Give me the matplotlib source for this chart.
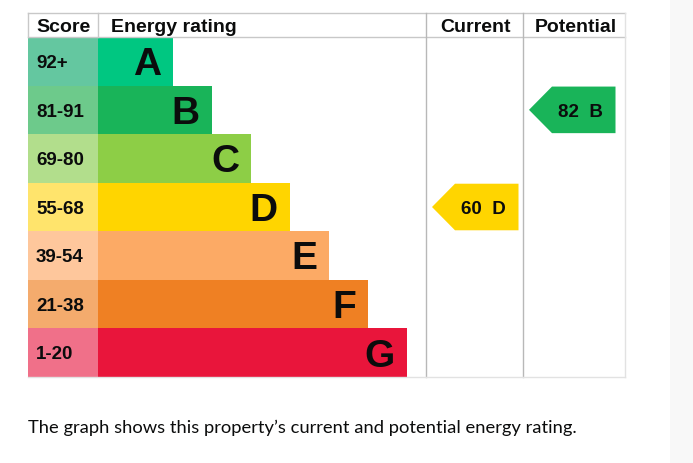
import matplotlib
matplotlib.use("Agg")
import matplotlib.pyplot as plt
from matplotlib.patches import Rectangle, Polygon

# band data
bands = ["A", "B", "C", "D", "E", "F", "G"]
score_labels = ["92+", "81-91", "69-80", "55-68", "39-54", "21-38", "1-20"]
band_min = [92, 81, 69, 55, 39, 21, 1]
current_rating = 60
potential_rating = 82

bar_colors = ["#00c781", "#19b459", "#8dce46", "#ffd500", "#fcaa65", "#ef8023", "#e9153b"]
score_colors = ["#64c7a0", "#6dca8b", "#b2de8c", "#ffe46c", "#fec79c", "#f4ab6d", "#f07089"]

W, H = 693, 463
LEFT, SCORE_R, CUR_L, POT_L, RIGHT = 28, 98, 426, 523, 625
TOP, HEAD_B, BOTTOM = 13, 37, 377
BAR0, BAR_STEP = 173, 39
ROW_H = (BOTTOM - HEAD_B) / len(bands)
DPI = 100
PX = 72 / DPI  # points per pixel
CAP = 0.716


def band_of(rating):
    for i, m in enumerate(band_min):
        if rating >= m:
            return i
    return len(bands) - 1


def baseline(yc, size_pt):
    return yc + CAP * size_pt / PX / 2


fig = plt.figure(figsize=(W / DPI, H / DPI), dpi=DPI)
ax = fig.add_axes([0, 0, 1, 1])
ax.set_xlim(0, W)
ax.set_ylim(H, 0)
ax.axis("off")

# grey strip on the right
ax.add_patch(Rectangle((670, 0), W - 670, H, color="#f8f8f8", lw=0))

font = "Liberation Sans"
txt = "#0b0c0c"

# header
ax.text(36, baseline((TOP + HEAD_B) / 2, 14), "Score", fontsize=14, fontweight="bold",
        family=font, color=txt, va="baseline")
ax.text(111, baseline((TOP + HEAD_B) / 2, 14), "Energy rating", fontsize=14, fontweight="bold",
        family=font, color=txt, va="baseline")
ax.text((CUR_L + POT_L) / 2 + 1, baseline((TOP + HEAD_B) / 2, 14), "Current", fontsize=14,
        fontweight="bold", family=font, color=txt, va="baseline", ha="center")
ax.text((POT_L + RIGHT) / 2 + 2, baseline((TOP + HEAD_B) / 2, 14), "Potential", fontsize=14,
        fontweight="bold", family=font, color=txt, va="baseline", ha="center")

# grid lines
line_kw = dict(color="#c8c8c8", lw=1)
ax.plot([LEFT, RIGHT], [TOP, TOP], **line_kw)
ax.plot([LEFT, RIGHT], [HEAD_B, HEAD_B], **line_kw)
ax.plot([LEFT, LEFT], [TOP, HEAD_B], **line_kw)
ax.plot([SCORE_R, SCORE_R], [TOP, HEAD_B], **line_kw)
ax.plot([CUR_L, CUR_L], [TOP, BOTTOM], color="#b8b8b8", lw=1)
ax.plot([POT_L, POT_L], [TOP, BOTTOM], color="#b8b8b8", lw=1)
ax.plot([RIGHT, RIGHT], [TOP, BOTTOM], color="#e2e2e2", lw=1)
ax.plot([LEFT, RIGHT], [BOTTOM, BOTTOM], color="#e2e2e2", lw=1)

# bands
for i, (b, s) in enumerate(zip(bands, score_labels)):
    y0 = HEAD_B + i * ROW_H
    yc = y0 + ROW_H / 2
    right = BAR0 + i * BAR_STEP
    ax.add_patch(Rectangle((LEFT, y0), SCORE_R - LEFT, ROW_H, color=score_colors[i], lw=0))
    ax.add_patch(Rectangle((SCORE_R, y0), right - SCORE_R, ROW_H, color=bar_colors[i], lw=0))
    ax.text(36, baseline(yc, 13.5), s, fontsize=13.5, fontweight="bold", family=font,
            color=txt, va="baseline")
    ax.text(right - 12, baseline(yc, 28), b, fontsize=28, fontweight="bold", family=font,
            color=txt, va="baseline", ha="right")


def arrow(col_left, rating):
    i = band_of(rating)
    y0 = HEAD_B + i * ROW_H
    y1 = y0 + ROW_H
    yc = (y0 + y1) / 2
    tip = col_left + 6
    body = tip + 23
    right = col_left + 92.5
    ax.add_patch(Polygon([(tip, yc), (body, y0 + 1), (right, y0 + 1), (right, y1 - 1), (body, y1 - 1)],
                         closed=True, color=bar_colors[i], lw=0))
    ax.text((body + right) / 2 - 3, baseline(yc, 13.5), f"{rating}  {bands[i]}", fontsize=13.5,
            fontweight="bold", family=font, color=txt, va="baseline", ha="center")


arrow(CUR_L, current_rating)
arrow(POT_L, potential_rating)

ax.text(28, 433.5, "The graph shows this property\u2019s current and potential energy rating.",
        fontsize=13.2, family="Lato", color=txt, va="baseline")

fig.savefig("out.png", dpi=DPI)
